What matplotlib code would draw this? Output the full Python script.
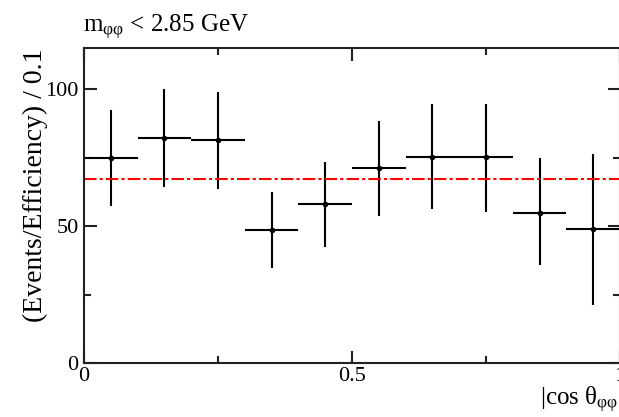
import numpy as np
import matplotlib
matplotlib.use("Agg")
import matplotlib.pyplot as plt
from matplotlib.ticker import MultipleLocator

plt.rcParams["font.family"] = ["Liberation Serif", "DejaVu Serif"]
plt.rcParams["mathtext.fontset"] = "custom"
plt.rcParams["mathtext.rm"] = "Liberation Serif"
plt.rcParams["mathtext.it"] = "Liberation Serif:italic"

# bin centres of |cos theta| and measured yields (events / efficiency)
bin_centers = [0.05, 0.15, 0.25, 0.35, 0.45, 0.55, 0.65, 0.75, 0.85, 0.95]
bin_halfwidth = 0.05
yields = [74.7, 82.0, 81.4, 48.5, 57.9, 71.3, 75.3, 75.1, 54.9, 48.9]
err_up = [17.6, 17.9, 17.6, 14.0, 15.3, 17.1, 19.2, 19.4, 19.8, 27.4]
err_down = [17.3, 17.7, 17.9, 13.8, 15.5, 17.5, 19.2, 19.9, 19.1, 27.7]
flat_fit = 67.0

title = r"m$_{\mathrm{φφ}}$ < 2.85 GeV"
xlabel = r"|cos θ$_{\mathrm{φφ}}$|"
ylabel = "(Events/Efficiency) / 0.1"

fig = plt.figure(figsize=(6.19, 4.17), dpi=100)
ax = fig.add_axes([84 / 619, 54 / 417, 536 / 619, 315 / 417])

ax.errorbar(bin_centers, yields, yerr=[err_down, err_up],
            xerr=bin_halfwidth, fmt="o", ms=3, color="black",
            ecolor="black", elinewidth=1.5, capsize=0)
ax.axhline(flat_fit, color="red", lw=1.5,
           linestyle=(0, (6, 1.5, 1.5, 1.5)))

ax.set_xlim(0, 1)
ax.set_ylim(0, 115)
ax.xaxis.set_major_locator(MultipleLocator(0.5))
ax.xaxis.set_minor_locator(MultipleLocator(0.25))
ax.yaxis.set_major_locator(MultipleLocator(50))
ax.yaxis.set_minor_locator(MultipleLocator(25))
ax.xaxis.set_major_formatter(plt.FuncFormatter(lambda v, p: f"{v:g}"))
ax.tick_params(which="both", direction="in", top=True, right=True,
               width=1.5, labelsize=16, color="#222222")
ax.tick_params(which="major", length=9)
ax.tick_params(which="minor", length=5)
ax.tick_params(axis="y", pad=4)
ax.tick_params(axis="x", pad=3)
for s in ax.spines.values():
    s.set_linewidth(1.5)
    s.set_color("#222222")

fig.text(83 / 619, (417 - 32) / 417, title, fontsize=18, ha="left", va="baseline")
fig.text(35 / 619, (417 - 48) / 417, ylabel, fontsize=20, rotation=90,
         ha="center", va="top")
fig.text(540 / 619, (417 - 405) / 417, xlabel, fontsize=18, ha="left", va="baseline")

fig.savefig("out.png", dpi=100)
